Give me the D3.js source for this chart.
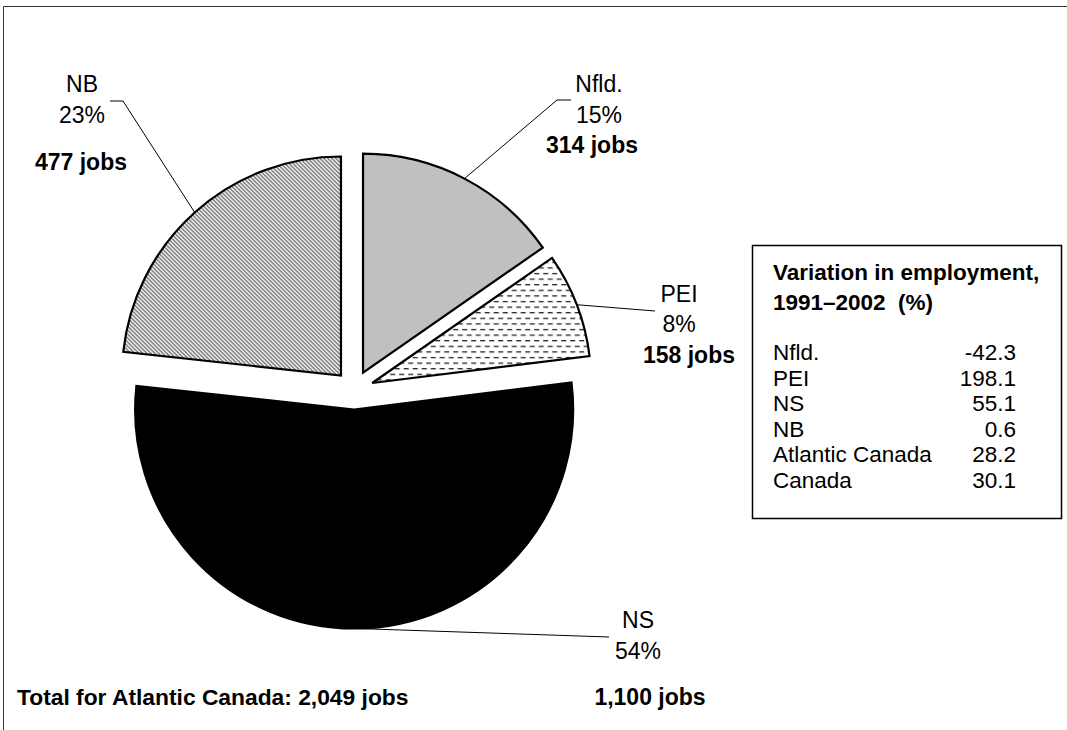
<!DOCTYPE html>
<html>
<head>
<meta charset="utf-8">
<script src="https://cdn.jsdelivr.net/npm/d3@7"></script>
<style>
  html, body { margin: 0; padding: 0; background: #fff; }
  svg { display: block; font-family: Arial, "Liberation Sans", sans-serif; }
  text { white-space: pre; }
</style>
</head>
<body>
<svg id="chart" width="1067" height="730"></svg>
<script>
// Job distribution by province (clockwise from 12 o'clock)
const provinces = ["Nfld.", "PEI", "NS", "NB"];
const jobs = [314, 158, 1100, 477];
const shares = ["15%", "8%", "54%", "23%"];
const totalLabel = "Total for Atlantic Canada: 2,049 jobs";

// Side table: variation in employment 1991–2002 (%)
const tableTitle = ["Variation in employment,", "1991\u20132002  (%)"];
const tableRegions = ["Nfld.", "PEI", "NS", "NB", "Atlantic Canada", "Canada"];
const tableValues = ["-42.3", "198.1", "55.1", "0.6", "28.2", "30.1"];

const svg = d3.select("#chart");
const defs = svg.append("defs");

// Fill patterns
const dash = defs.append("pattern")
  .attr("id", "dashH").attr("patternUnits", "userSpaceOnUse")
  .attr("width", 9).attr("height", 11.2);
dash.append("rect").attr("width", 9).attr("height", 11.2).attr("fill", "#fff");
dash.append("line").attr("x1", 0).attr("x2", 5).attr("y1", 2.5).attr("y2", 2.5)
  .attr("stroke", "#222").attr("stroke-width", 1.3);
dash.append("line").attr("x1", 4.5).attr("x2", 9.5).attr("y1", 8.1).attr("y2", 8.1)
  .attr("stroke", "#222").attr("stroke-width", 1.3);
dash.append("line").attr("x1", -0.5).attr("x2", 0.5).attr("y1", 8.1).attr("y2", 8.1)
  .attr("stroke", "#222").attr("stroke-width", 1.3);

const diag = defs.append("pattern")
  .attr("id", "diag").attr("patternUnits", "userSpaceOnUse")
  .attr("width", 4).attr("height", 4);
diag.append("rect").attr("width", 4).attr("height", 4).attr("fill", "#fff");
diag.append("path").attr("d", "M-1,-1 L5,5 M-1,3 L1,5 M3,-1 L5,1")
  .attr("stroke", "#4a4a4a").attr("stroke-width", 1.2);

const fills = ["#c0c0c0", "url(#dashH)", "#000", "url(#diag)"];

// Frame
svg.append("path").attr("d", "M3.5,730 V6.5 H1067")
  .attr("fill", "none").attr("stroke", "#333").attr("stroke-width", 1);

// Pie geometry
const cx = 354, cy = 390, R = 219, explode = 19.5;
const pie = d3.pie().sort(null).value(d => d)(jobs);
const arc = d3.arc().innerRadius(0).outerRadius(R);

const g = svg.append("g").attr("transform", `translate(${cx},${cy})`);
const mid = d => (d.startAngle + d.endAngle) / 2;
const off = d => [Math.sin(mid(d)) * explode, -Math.cos(mid(d)) * explode];

g.selectAll("path.slice").data(pie).join("path")
  .attr("class", "slice")
  .attr("transform", d => `translate(${off(d)[0]},${off(d)[1]})`)
  .attr("d", arc)
  .attr("fill", (d, i) => fills[i])
  .attr("stroke", "#000").attr("stroke-width", 2.2)
  .attr("stroke-linejoin", "miter");

// Label layout: [anchor x, first baseline, line gaps, leader elbow points]
const labelPos = [
  { x: 599, y: 92, gaps: [31, 30], leader: [[557, 100], [571, 100]] },
  { x: 679, y: 302, gaps: [30, 31], leader: [[655, 311]] },
  { x: 638, y: 628, gaps: [31, 46], leader: [[609, 637]] },
  { x: 82, y: 92, gaps: [31, 47], leader: [[123, 101], [110, 101]] }
];
const boldX = [592, 689, 650, 81];

pie.forEach((d, i) => {
  const p = labelPos[i];
  const a = mid(d), o = off(d);
  const start = [cx + o[0] + Math.sin(a) * R, cy + o[1] - Math.cos(a) * R];
  svg.append("path")
    .attr("d", d3.line()([start, ...p.leader]))
    .attr("fill", "none").attr("stroke", "#000").attr("stroke-width", 1);

  const t = svg.append("g").attr("text-anchor", "middle").attr("fill", "#000");
  t.append("text").attr("x", p.x).attr("y", p.y)
    .attr("font-size", 23).text(provinces[i]);
  t.append("text").attr("x", p.x).attr("y", p.y + p.gaps[0])
    .attr("font-size", 23).text(shares[i]);
  t.append("text").attr("x", boldX[i]).attr("y", p.y + p.gaps[0] + p.gaps[1])
    .attr("font-size", 23).attr("font-weight", "bold")
    .text(d3.format(",")(jobs[i]) + " jobs");
});

svg.append("text").attr("x", 17).attr("y", 705)
  .attr("font-size", 22.8).attr("font-weight", "bold").text(totalLabel);

// Variation table
const tb = svg.append("g");
tb.append("rect").attr("x", 752.5).attr("y", 245.5).attr("width", 309).attr("height", 273)
  .attr("fill", "#fff").attr("stroke", "#000").attr("stroke-width", 1.5);
tableTitle.forEach((s, i) => {
  tb.append("text").attr("x", 773).attr("y", 280 + i * 30)
    .attr("font-size", 22.5).attr("font-weight", "bold").text(s);
});
tableRegions.forEach((s, i) => {
  const y = 360 + i * 25.6;
  tb.append("text").attr("x", 773).attr("y", y).attr("font-size", 22.5).text(s);
  tb.append("text").attr("x", 1016).attr("y", y).attr("font-size", 22.5)
    .attr("text-anchor", "end").text(tableValues[i]);
});
</script>
</body>
</html>
